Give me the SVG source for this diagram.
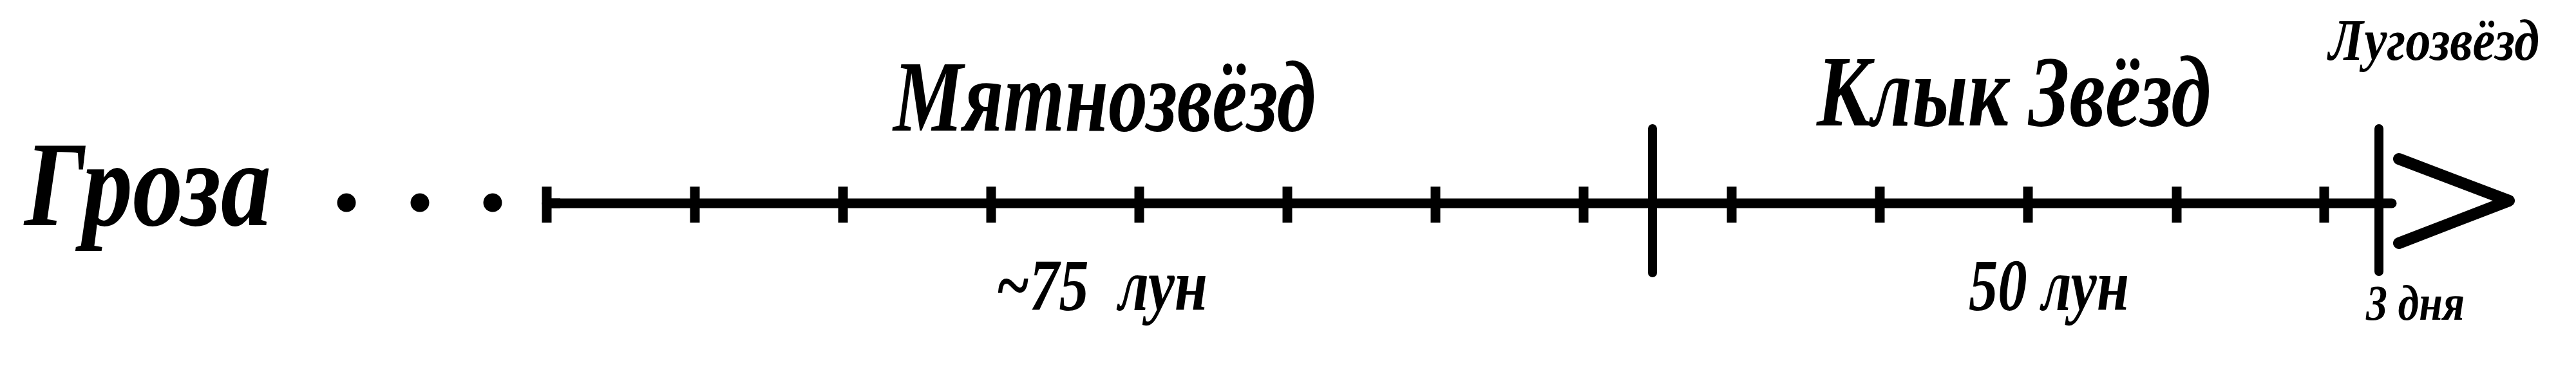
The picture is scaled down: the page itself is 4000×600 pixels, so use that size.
<svg xmlns="http://www.w3.org/2000/svg" width="4000" height="600" viewBox="0 0 4000 600">
<style>
.t{font-family:"Liberation Serif","Times New Roman","DejaVu Serif",serif;font-style:italic;font-weight:bold;fill:#000;}
.axis{stroke:#000;stroke-width:15;fill:none;}
.tick{stroke:#000;stroke-width:15;stroke-linecap:butt;}
.div{stroke:#000;stroke-width:14;stroke-linecap:round;}
.arrow{stroke:#000;stroke-width:18;fill:none;stroke-linecap:round;stroke-linejoin:round;}
</style>
<rect width="4000" height="600" fill="#fff"/>
<g id="start-label">
<text class="t" x="38" y="350" font-size="188" textLength="383" lengthAdjust="spacingAndGlyphs">Гроза</text>
<circle cx="538" cy="315" r="14.5" fill="#000"/>
<circle cx="652" cy="315" r="14.5" fill="#000"/>
<circle cx="765" cy="315" r="14.5" fill="#000"/>
</g>
<g id="connectors">
<line class="axis" x1="849" y1="316" x2="3714" y2="316" stroke-linecap="round"/>
<line class="axis" x1="849" y1="316" x2="870" y2="316"/>
<g class="ticks">
<line class="tick" x1="849" y1="290" x2="849" y2="346"/>
<line class="tick" x1="1079" y1="290" x2="1079" y2="346"/>
<line class="tick" x1="1309" y1="290" x2="1309" y2="346"/>
<line class="tick" x1="1539" y1="290" x2="1539" y2="346"/>
<line class="tick" x1="1769" y1="290" x2="1769" y2="346"/>
<line class="tick" x1="1999" y1="290" x2="1999" y2="346"/>
<line class="tick" x1="2229" y1="290" x2="2229" y2="346"/>
<line class="tick" x1="2459" y1="290" x2="2459" y2="346"/>
<line class="tick" x1="2689" y1="290" x2="2689" y2="346"/>
<line class="tick" x1="2919" y1="290" x2="2919" y2="346"/>
<line class="tick" x1="3149" y1="290" x2="3149" y2="346"/>
<line class="tick" x1="3380" y1="290" x2="3380" y2="346"/>
<line class="tick" x1="3609" y1="290" x2="3609" y2="346"/>
</g>
<line class="div" x1="2566" y1="200" x2="2566" y2="424"/>
<line class="div" x1="3694" y1="200" x2="3694" y2="422"/>
<polyline class="arrow" points="3725,247 3896,312 3725,378"/>
</g>
<g id="mintstar">
<text class="t" x="1387" y="203" font-size="156" textLength="656" lengthAdjust="spacingAndGlyphs">Мятнозвёзд</text>
<text class="t" x="1546" y="482" font-size="115" textLength="329" lengthAdjust="spacingAndGlyphs" xml:space="preserve" style="white-space:pre">~75  лун</text>
</g>
<g id="fangstar">
<text class="t" x="2821" y="195" font-size="156" textLength="612" lengthAdjust="spacingAndGlyphs">Клык Звёзд</text>
<text class="t" x="3057" y="482" font-size="115" textLength="249" lengthAdjust="spacingAndGlyphs">50 лун</text>
</g>
<g id="meadowstar">
<text class="t" x="3616" y="93" font-size="91" textLength="327" lengthAdjust="spacingAndGlyphs">Лугозвёзд</text>
<text class="t" x="3674" y="497" font-size="78" textLength="153" lengthAdjust="spacingAndGlyphs">3 дня</text>
</g>
</svg>
